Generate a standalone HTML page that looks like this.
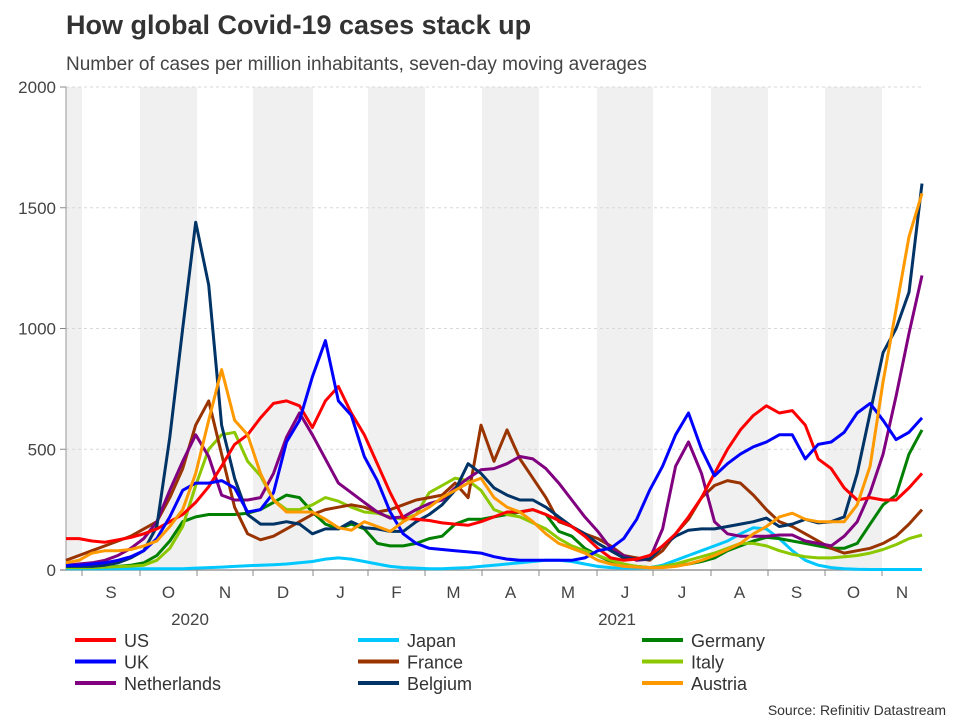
<!DOCTYPE html>
<html><head><meta charset="utf-8"><style>
body{margin:0;background:#fff;width:960px;height:720px;overflow:hidden;font-family:"Liberation Sans",Arial,sans-serif}
svg text{font-family:"Liberation Sans",Arial,sans-serif}
</style></head><body>
<svg id="chart" width="960" height="720" viewBox="0 0 960 720" xmlns="http://www.w3.org/2000/svg">
<text x="66" y="34" font-size="27" font-weight="bold" fill="#333">How global Covid-19 cases stack up</text>
<text x="66" y="70" font-size="19" fill="#444">Number of cases per million inhabitants, seven-day moving averages</text>
<g id="bands"></g><g id="grid"></g><g id="axes"></g><g id="series"></g><g id="legend"></g>
<text x="946" y="715" font-size="14" fill="#333" text-anchor="end">Source: Refinitiv Datastream</text>
</svg>
<script>
const months=["S","O","N","D","J","F","M","A","M","J","J","A","S","O","N"];
const monthStarts=[82,140,197,253,313,368,425,482,539,597,653,711,768,825,882,940];
const yTicks=[0,500,1000,1500,2000];
const names=["US","UK","Netherlands","Japan","France","Belgium","Germany","Italy","Austria"];
const colors=["#ff0000","#0000ff","#800080","#00c8ff","#993300","#003366","#008000","#8cc800","#ff9900"];
const US=[130,130,120,115,125,135,150,170,200,230,280,345,430,520,560,630,690,700,680,590,700,760,650,560,440,320,215,210,205,195,190,185,200,220,240,240,250,230,205,180,140,90,50,40,45,60,100,150,220,300,400,500,580,640,680,650,660,600,460,420,340,290,300,290,290,340,400];
const UK=[20,20,25,30,40,55,80,130,220,330,360,360,370,340,240,250,320,530,620,800,950,700,640,470,370,240,150,110,90,85,80,75,70,55,45,40,40,40,40,40,50,80,90,130,210,330,430,560,650,500,390,440,480,510,530,560,560,460,520,530,570,650,690,620,540,570,630];
const Netherlands=[20,25,30,40,60,90,130,200,330,450,560,470,310,290,290,300,400,550,650,560,460,360,320,280,240,215,220,250,275,290,340,380,415,420,440,470,460,420,360,290,220,160,90,60,40,45,170,430,530,400,200,150,140,140,140,145,145,120,110,100,140,200,320,480,720,980,1220];
const Japan=[5,5,5,5,5,5,5,5,5,5,8,10,12,15,18,20,22,25,30,35,45,50,45,35,25,15,10,8,5,5,8,10,15,20,25,30,35,40,40,35,25,15,10,8,8,10,20,40,60,80,100,120,150,175,170,130,80,40,20,10,5,3,2,2,2,2,2];
const France=[40,60,80,100,120,140,170,200,300,420,600,700,480,260,150,125,140,170,200,230,250,260,270,260,240,250,270,290,300,310,360,300,600,450,580,460,380,300,200,180,150,130,100,60,50,40,80,150,210,300,350,370,360,310,250,200,180,150,120,90,70,80,90,110,140,190,250];
const Belgium=[15,15,15,20,30,50,80,180,550,1000,1440,1180,600,380,230,190,190,200,190,150,170,170,200,175,170,160,160,200,230,270,330,440,400,340,310,290,290,260,220,180,150,110,80,50,45,45,100,140,165,170,170,180,190,200,215,180,190,210,195,200,220,400,650,900,1000,1150,1600];
const Germany=[15,15,15,15,15,20,30,60,120,200,220,230,230,230,235,250,280,310,300,240,190,170,190,170,110,100,100,110,130,140,190,210,210,220,230,240,250,230,160,140,90,60,35,20,15,10,12,20,25,35,50,80,100,120,135,130,120,110,100,90,90,110,190,270,310,480,580];
const Italy=[10,10,10,12,14,16,20,40,90,180,350,500,560,570,450,390,290,250,250,270,300,285,260,240,235,220,210,230,320,350,380,370,330,250,230,220,195,170,130,100,80,60,40,25,15,10,15,25,40,55,70,90,110,110,100,80,65,55,50,50,55,60,70,85,105,130,145];
const Austria=[30,40,70,80,80,85,100,120,180,250,400,620,830,620,560,400,290,240,240,240,210,175,165,200,180,160,200,230,260,300,330,360,380,300,260,240,200,150,110,90,70,40,25,15,12,10,10,15,25,40,60,85,110,150,180,220,235,210,200,200,200,270,430,780,1080,1380,1560];
const seriesData=[US,UK,Netherlands,Japan,France,Belgium,Germany,Italy,Austria];
const drawOrder=[3,6,7,4,2,5,0,1,8];
const X0=66,X1=922,Y0=570,Y1=87,VMAX=2000;
const NS="http://www.w3.org/2000/svg";
function xScale(i,n){return X0+(X1-X0)*i/(n-1);}
function yScale(v){return Y0-(Y0-Y1)*v/VMAX;}
function mk(tag,attrs,parent){const e=document.createElementNS(NS,tag);for(const k in attrs)e.setAttribute(k,attrs[k]);parent.appendChild(e);return e;}
const bands=document.getElementById('bands'),grid=document.getElementById('grid'),axes=document.getElementById('axes'),ser=document.getElementById('series'),leg=document.getElementById('legend');
// shaded month bands (Aug, Oct, Dec, Feb, Apr, Jun, Aug, Oct)
const bandEdges=[[X0,82]];
for(let k=1;k<monthStarts.length-1;k+=2){bandEdges.push([monthStarts[k],Math.min(monthStarts[k+1],X1)]);}
bandEdges.forEach(b=>{const r=mk('rect',{x:b[0],y:Y1,width:b[1]-b[0],height:Y0-Y1,fill:'#f0f0f0'},bands);

});
yTicks.forEach(t=>{const y=yScale(t);
if(t>0){const l=mk('line',{x1:X0,x2:X1,y1:y,y2:y,stroke:'#d8d8d8','stroke-dasharray':'3,3'},grid);

}
const tx=mk('text',{x:56,y:y+6,'font-size':17,fill:'#444','text-anchor':'end'},axes);tx.textContent=t;


mk('line',{x1:X0-6,x2:X0,y1:y,y2:y,stroke:'#888'},axes);});
const ya=mk('line',{x1:X0,x2:X0,y1:Y1,y2:Y0,stroke:'#999'},axes);


const xa=mk('line',{x1:X0-6,x2:X1,y1:Y0,y2:Y0,stroke:'#999','stroke-width':1.5},axes);


months.forEach((m,k)=>{const a=monthStarts[k],b=monthStarts[k+1];
mk('line',{x1:a,x2:a,y1:Y0,y2:Y0+6,stroke:'#888'},axes);
const cx=(a+Math.min(b,X1))/2;
const tx=mk('text',{x:cx,y:598,'font-size':17,fill:'#444','text-anchor':'middle'},axes);tx.textContent=m;

});
[["2020",190],["2021",617]].forEach(p=>{const tx=mk('text',{x:p[1],y:625,'font-size':17,fill:'#444','text-anchor':'middle'},axes);tx.textContent=p[0];

});
drawOrder.forEach(si=>{const d=seriesData[si];
const pts=d.map((v,i)=>xScale(i,d.length).toFixed(1)+','+yScale(v).toFixed(1)).join(' ');
const pl=mk('polyline',{points:pts,fill:'none',stroke:colors[si],'stroke-width':3,'stroke-linejoin':'round'},ser);

});
const legCols=[75,358,642];
names.forEach((n,i)=>{const col=i%3===0?0:(i<3?Math.floor(0):0);});
const legendOrder=[[0,3,6],[1,4,7],[2,5,8]];
legendOrder.forEach((row,r)=>row.forEach((si,c)=>{const y=640+r*21.5;
const g=mk('g',{},leg);


mk('line',{x1:legCols[c],x2:legCols[c]+41,y1:y,y2:y,stroke:colors[si],'stroke-width':4},g);
const tx=mk('text',{x:legCols[c]+49,y:y+7,'font-size':18,fill:'#333'},g);tx.textContent=names[si];}));
</script>
</body></html>
